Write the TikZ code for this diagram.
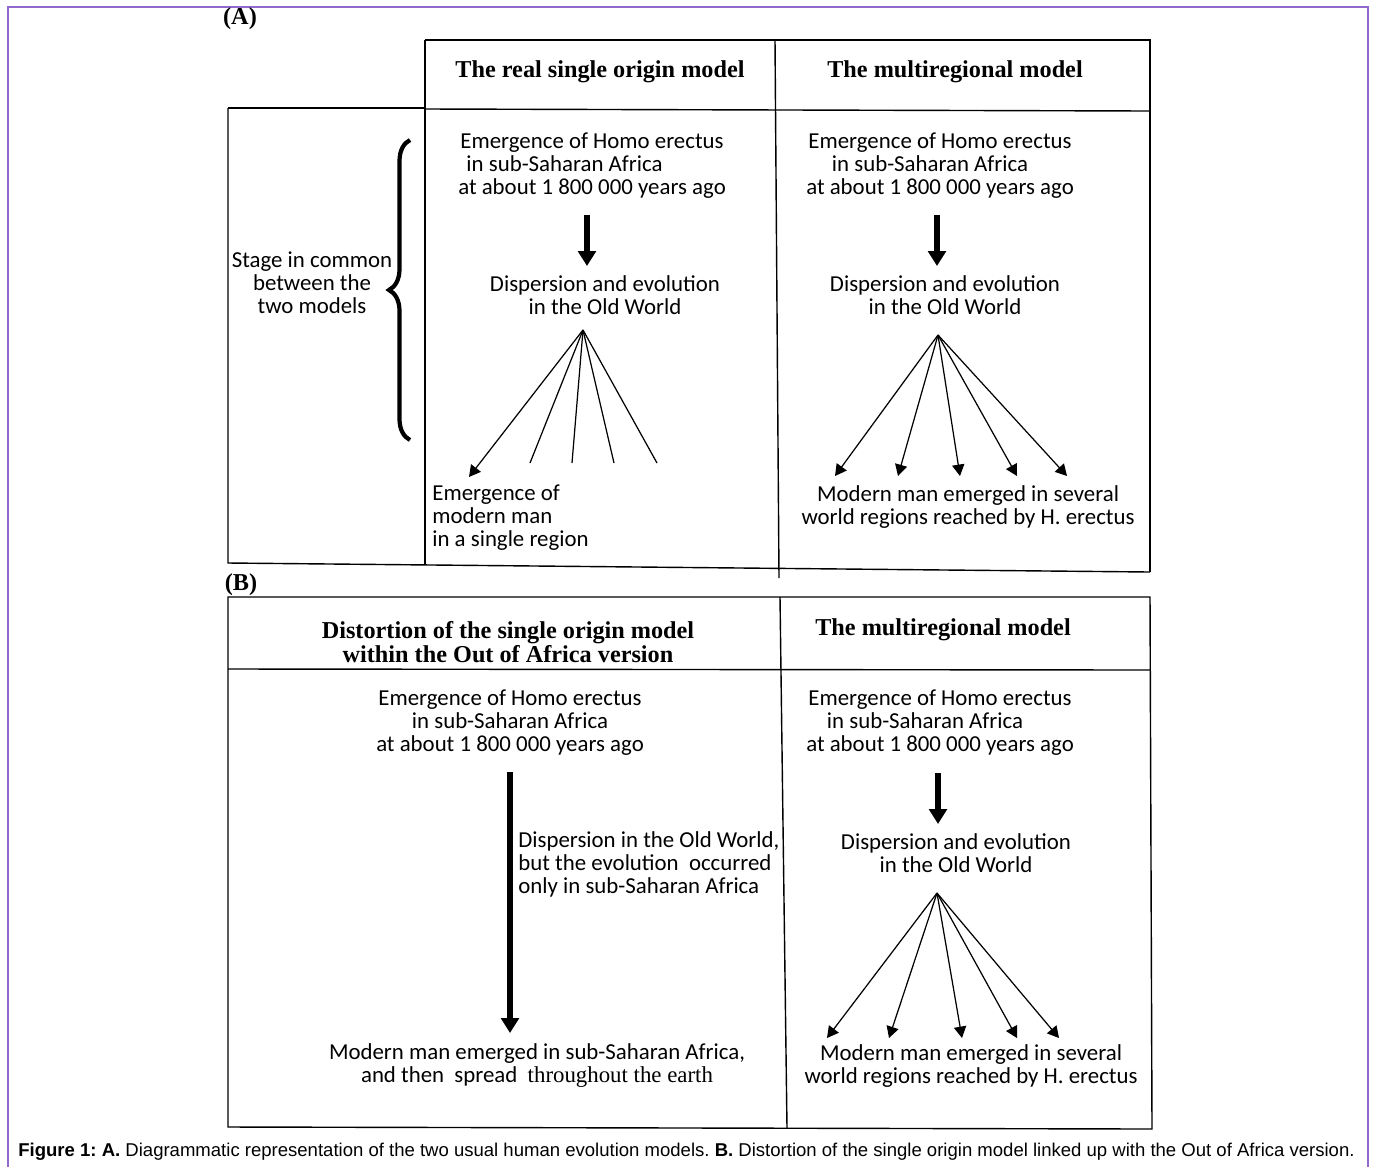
\documentclass[tikz,border=0pt]{standalone}
\usepackage{fontspec}
\setmainfont{Carlito}
\newfontfamily\timesfont{Liberation Serif}
\newfontfamily\arialfont{Liberation Sans}
\usetikzlibrary{arrows.meta}
\usetikzlibrary{decorations.pathreplacing}
\definecolor{framepurple}{RGB}{145,105,205}
\frenchspacing

\begin{document}
\begin{tikzpicture}[x=0.02cm,y=-0.02cm,
    body/.style={inner sep=0pt,align=center,font=\fontsize{13}{13.1}\selectfont},
    head/.style={inner sep=0pt,align=center,font=\timesfont\bfseries\fontsize{13.8}{13.3}\selectfont},
    rule/.style={line width=0.8pt},
    bigarrow/.style={line width=3.2pt,-{Triangle[length=8.5pt,width=10pt]}},
    fanarrow/.style={line width=0.7pt,-{Triangle[length=6.5pt,width=7pt]}},
    fanline/.style={line width=0.7pt}]
    \useasboundingbox (0,0) rectangle (1375,1167);
    \draw[framepurple,line width=1.2pt] (8,1167) -- (8,7) -- (1368,7) -- (1368,1167);

    \draw[rule] (425,40) -- (1150,40) -- (1150,572);
    \draw[rule] (425,40) -- (425,565);
    \draw[rule] (775,40) -- (779,578);
    \draw[rule] (425,109) -- (1150,111);
    \draw[rule] (228,108) -- (425,108);
    \draw[rule] (228,108) -- (228,563) -- (1150,572);

    \node[head] (labA) at (240,19) {(A)};
    \node[head] (hdSingle) at (600,72) {The real single origin model};
    \node[head] (hdMultiA) at (955,72) {The multiregional model};
    \node[body] (stage) at (312,283) {Stage in common\\between the\\two models};
    \draw[line width=2.4pt,decorate,decoration={brace,amplitude=0.42cm}] (410,440) -- (410,140);

    \node[body] (emA) at (592,166) {Emergence of Homo erectus\\\mbox{in sub-Saharan Africa\hspace{1.1cm}}\\at about 1 800 000 years ago};
    \coordinate (upA) at (587,215);
    \coordinate (downA) at (587,266);
    \draw[bigarrow] (upA) -- (downA);
    \node[body] (dispA) at (605,295) {Dispersion and evolution\\in the Old World};
    \coordinate (apexA) at (583,330);
    \coordinate (tipA) at (469,477);
    \draw[fanarrow] (apexA) -- (tipA);
    \foreach \x [count=\i] in {530,572,614,657} {
        \coordinate (endA\i) at (\x,463);
        \draw[fanline] (apexA) -- (endA\i);
    }
    \node[body,align=left,anchor=west] (singleA) at (432,518) {Emergence of\\modern man\\in a single region};

    \node[body] (emMA) at (940,166) {Emergence of Homo erectus\\\mbox{in sub-Saharan Africa\hspace{0.4cm}}\\at about 1 800 000 years ago};
    \coordinate (upMA) at (937,215);
    \coordinate (downMA) at (937,266);
    \draw[bigarrow] (upMA) -- (downMA);
    \node[body] (dispMA) at (945,295) {Dispersion and evolution\\in the Old World};
    \coordinate (apexMA) at (938,335);
    \foreach \x [count=\i] in {835,898,960,1017,1067} {
        \coordinate (tipMA\i) at (\x,476);
        \draw[fanarrow] (apexMA) -- (tipMA\i);
    }
    \node[body] (modMA) at (968,507) {Modern man emerged in several\\world regions reached by H. erectus};

    \draw[rule] (228,597) -- (1150,597) -- (1152,1129) -- (228,1127) -- cycle;
    \draw[rule] (228,669) -- (1150,670);
    \draw[rule] (780,597) -- (787,1128);

    \node[head] (labB) at (241,585) {(B)};
    \node[head] (hdDist) at (508,642) {Distortion of the single origin model\\within the Out of Africa version};
    \node[head] (hdMultiB) at (943,630) {The multiregional model};

    \node[body] (emB) at (510,723) {Emergence of Homo erectus\\in sub-Saharan Africa\\at about 1 800 000 years ago};
    \coordinate (upB) at (510,772);
    \coordinate (downB) at (510,1033);
    \draw[bigarrow] (upB) -- (downB);
    \node[body,align=left,anchor=west] (dispB) at (518,864) {Dispersion in the Old World,\\but the evolution\ \ occurred\\only in sub-Saharan Africa};
    \node[body] (modB) at (537,1066) {Modern man emerged in sub-Saharan Africa,\\and then\ \ spread\ \ {\timesfont throughout the earth}};

    \node[body] (emMB) at (940,723) {Emergence of Homo erectus\\\mbox{in sub-Saharan Africa\hspace{0.6cm}}\\at about 1 800 000 years ago};
    \coordinate (upMB) at (938,773);
    \coordinate (downMB) at (938,824);
    \draw[bigarrow] (upMB) -- (downMB);
    \node[body] (dispMB) at (956,853) {Dispersion and evolution\\in the Old World};
    \coordinate (apexMB) at (937,893);
    \foreach \x [count=\i] in {827,889,962,1017,1059} {
        \coordinate (tipMB\i) at (\x,1038);
        \draw[fanarrow] (apexMB) -- (tipMB\i);
    }
    \node[body] (modMB) at (971,1066) {Modern man emerged in several\\world regions reached by H. erectus};

    \node[anchor=west,inner sep=0pt,font=\arialfont\fontsize{10.55}{12}\selectfont] (caption) at (18,1152) {\textbf{Figure 1: A.} Diagrammatic representation of the two usual human evolution models. \textbf{B.} Distortion of the single origin model linked up with the Out of Africa version.};
\end{tikzpicture}
\end{document}
